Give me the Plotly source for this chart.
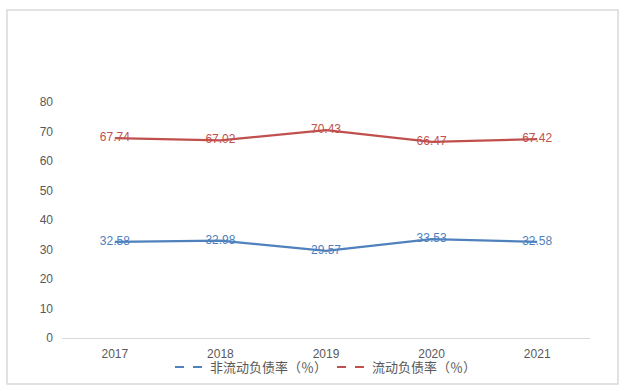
import plotly.graph_objects as go

years = ["2017", "2018", "2019", "2020", "2021"]
non_current = [32.58, 32.98, 29.57, 33.53, 32.58]
current = [67.74, 67.02, 70.43, 66.47, 67.42]
name_nc = "非流动负债率（％）"
name_c = "流动负债率（％）"

blue = "#4F81BD"
red = "#C0504D"
font_family = "Liberation Sans, Noto Sans CJK SC, sans-serif"

fig = go.Figure()
for vals, col in [(non_current, blue), (current, red)]:
    fig.add_trace(go.Scatter(
        x=years, y=vals, mode="lines+text",
        text=[f"{v:.2f}" for v in vals], textposition="middle center",
        textfont=dict(color=col, size=12, family=font_family),
        line=dict(color=col, width=2.2), showlegend=False, cliponaxis=False))
for nm, col in [(name_nc, blue), (name_c, red)]:
    fig.add_trace(go.Scatter(x=[None], y=[None], mode="lines", name=nm,
                             line=dict(color=col, width=2, dash="dash")))

L, R, T, B = 62, 40, 102, 53
W, H = 630, 391
pw, ph = W - L - R, H - T - B
def px(x): return (x - L) / pw
def py(y): return (H - B - y) / ph

fig.add_shape(type="rect", xref="paper", yref="paper",
              x0=px(7), x1=px(618), y0=py(384), y1=py(10),
              line=dict(color="#D9D9D9", width=1.5), fillcolor="rgba(0,0,0,0)", layer="below")

fig.update_layout(
    width=W, height=H, margin=dict(l=L, r=R, t=T, b=B, autoexpand=False),
    paper_bgcolor="white", plot_bgcolor="white",
    font=dict(family=font_family, size=12, color="#595959"),
    xaxis=dict(type="category", range=[-0.5, 4.5], showgrid=False, showline=True,
               linecolor="#D9D9D9", linewidth=1, ticks="", zeroline=False, automargin=False,
               tickfont=dict(size=12, color="#595959"), ticklabelstandoff=5),
    yaxis=dict(range=[0, 80], dtick=10, showgrid=False, showline=False, zeroline=False,
               ticks="", automargin=False,
               tickfont=dict(size=12, color="#595959"), ticklabelstandoff=8),
    legend=dict(orientation="h", x=0.5, xanchor="center", y=py(367), yanchor="middle",
                bgcolor="rgba(0,0,0,0)",
                font=dict(size=13, color="#595959"), itemwidth=30, tracegroupgap=0),
)

fig.write_html("out.html", config={"displayModeBar": False},
               post_script="document.body.style.margin='0';document.body.style.padding='0';")
